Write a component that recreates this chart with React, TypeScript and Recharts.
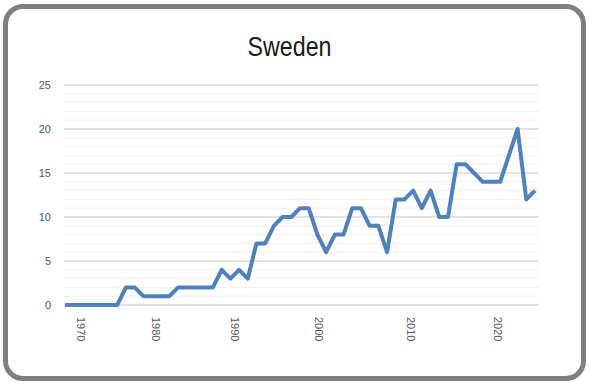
import React from "react";
import { LineChart, Line, XAxis, YAxis, CartesianGrid, ReferenceLine } from "recharts";

// Series values, one per category (left to right)
const values = [
  0, 0, 0, 0, 0, 0, 0, 2, 2, 1, 1, 1, 1, 2, 2, 2, 2, 2, 4, 3, 4, 3, 7, 7, 9, 10, 10,
  11, 11, 8, 6, 8, 8, 11, 11, 9, 9, 6, 12, 12, 13, 11, 13, 10, 10, 16, 16, 15, 14, 14,
  14, 17, 20, 12, 13,
];
// Category index
const categories = values.map((_, i) => i);
// Tick labels on the category axis and where they fall (in category index units)
const tickYears = ["1970", "1980", "1990", "2000", "2010", "2020"];
const tickAt = [1.8, 10.5, 19.5, 29.2, 39.7, 49.8];
const yTicks = [0, 5, 10, 15, 20, 25];
const yMinor = [1, 2, 3, 4, 6, 7, 8, 9, 11, 12, 13, 14, 16, 17, 18, 19, 21, 22, 23, 24];

const data = categories.map((c, i) => ({ i: c, v: values[i] }));

const XTick = (props: any) => {
  const { x, y, payload } = props;
  const idx = tickAt.indexOf(payload.value);
  return (
    <text
      transform={`translate(${x},${y}) rotate(90)`}
      x={0}
      y={0}
      textAnchor="start"
      dominantBaseline="central"
      fontSize={11}
      fontFamily="'Liberation Sans', Arial, sans-serif"
      fill="#595959"
    >
      {tickYears[idx]}
    </text>
  );
};

export default function App() {
  return (
    <div style={{ position: "absolute", left: 0, top: 0, width: 589, height: 387, background: "#fff" }}>
      <div
        style={{
          position: "absolute",
          left: 3,
          top: 4,
          width: 573,
          height: 367,
          border: "5px solid #7f7f7f",
          borderRadius: 20,
        }}
      />
      <div
        style={{
          position: "absolute",
          left: 0,
          top: 33,
          width: 579,
          textAlign: "center",
          fontSize: 28,
          lineHeight: "28px",
          fontFamily: "'Liberation Sans', Arial, sans-serif",
          color: "#1a1a1a",
          transform: "scaleX(0.83)",
          transformOrigin: "289.5px 0px",
        }}
      >
        Sweden
      </div>
      <div style={{ position: "absolute", left: 0, top: 0 }}>
        <LineChart
          width={589}
          height={387}
          data={data}
          margin={{ top: 85, right: 51, bottom: 32, left: 24 }}
        >
          {yMinor.map((m) => (
            <ReferenceLine key={m} y={m} stroke="#efefef" strokeWidth={1} ifOverflow="extendDomain" />
          ))}
          <CartesianGrid vertical={false} stroke="#d9d9d9" strokeWidth={1.5} />
          <XAxis
            dataKey="i"
            type="number"
            domain={[0, 54]}
            ticks={tickAt}
            tick={<XTick />}
            tickLine={false}
            axisLine={false}
            height={50}
            tickMargin={12}
            tickSize={0}
            padding={{ left: 1, right: 3 }}
            interval={0}
          />
          <YAxis
            domain={[0, 25]}
            ticks={yTicks}
            width={40}
            tickLine={false}
            axisLine={false}
            tickSize={0}
            tickMargin={13}
            interval={0}
            tick={{ fontSize: 11, fill: "#595959", fontFamily: "'Liberation Sans', Arial, sans-serif" }}
          />
          <Line
            type="linear"
            dataKey="v"
            stroke="#4f81bd"
            strokeWidth={4}
            dot={false}
            isAnimationActive={false}
            strokeLinejoin="round"
          />
        </LineChart>
      </div>
    </div>
  );
}
